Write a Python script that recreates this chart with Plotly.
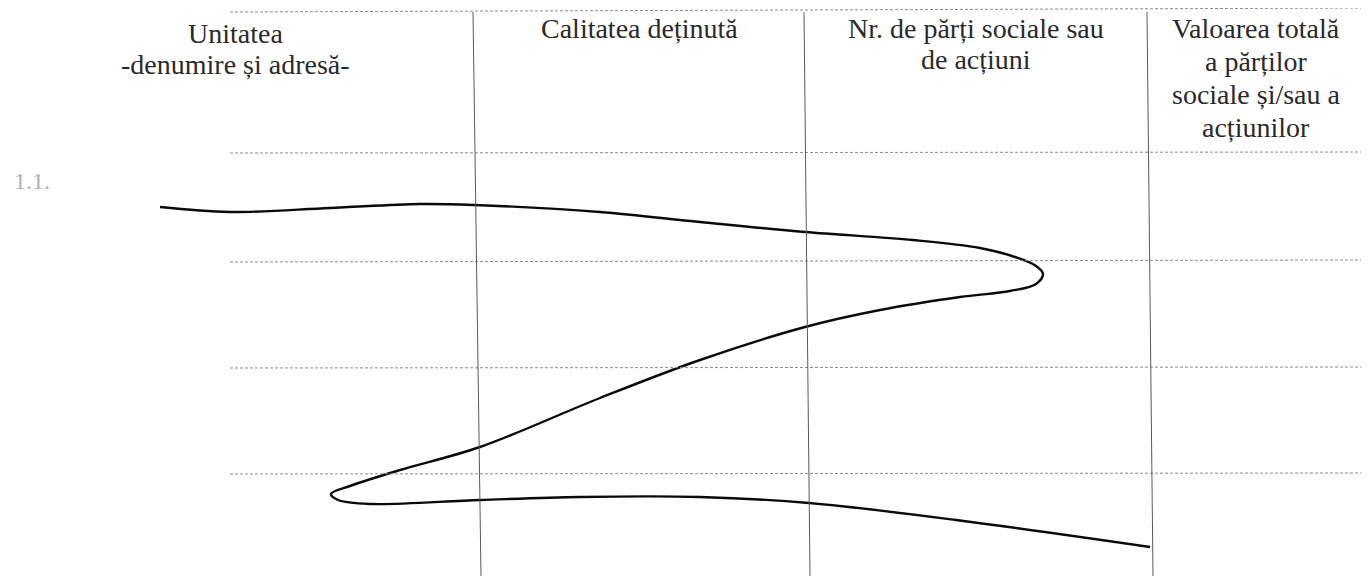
import plotly.graph_objects as go

# ---- table text (header cells) ----
header_lines = [
    ["Unitatea", "-denumire și adresă-"],
    ["Calitatea deținută"],
    ["Nr. de părți sociale sau", "de acțiuni"],
    ["Valoarea totală", "a părților", "sociale și/sau a", "acțiunilor"],
]
row_label = "1.1."

# ---- table rules (page pixel units) ----
col_top_x = [473, 804, 1147]
col_bot_x = [481, 810, 1153]
row_y_left = [12, 153, 262, 368, 474]
row_y_right = [8, 152, 260, 367, 473]

# ---- hand-drawn cancelling stroke, traced point by point ----
stroke_x = [160, 230, 330, 420, 474, 600, 700, 805, 913, 980, 1015, 1036,
            1043, 1036, 1010, 960, 880, 805, 700, 600, 480, 400, 350, 331,
            338, 370, 480, 580, 700, 809, 956, 1150]
stroke_y = [207, 212, 208, 204, 205, 212, 222, 232, 240, 248, 257, 266,
            274, 284, 291, 297, 310, 327, 360, 398, 447, 470, 486, 494,
            500, 504, 500, 497, 497, 503, 520, 547]

W, H = 1369, 576
OFF = 8  # page body margin
fig = go.Figure()

shapes = []
for yl, yr in zip(row_y_left, row_y_right):
    shapes.append(dict(type="line", xref="x", yref="y", x0=230, x1=1365,
                       y0=yl, y1=yr,
                       line=dict(color="#8a8a8a", width=1, dash="3px,2px")))
for xt, xb in zip(col_top_x, col_bot_x):
    shapes.append(dict(type="line", xref="x", yref="y", x0=xt, x1=xb,
                       y0=row_y_left[0], y1=H,
                       line=dict(color="#5a5a5a", width=1)))
shapes.append(dict(type="line", xref="x", yref="y", x0=1364, x1=1366,
                   y0=0, y1=H, line=dict(color="#9a9a9a", width=1)))

fig.add_trace(go.Scatter(x=stroke_x, y=stroke_y, mode="lines",
                         line=dict(color="#0a0a0a", width=2.4, shape="spline",
                                   smoothing=1.0),
                         hoverinfo="skip", showlegend=False))

centers_x = [235, 639, 976, 1256]
first_y = [33, 28, 28, 28]
line_gap = [31, 31, 31, 33.3]
annotations = []
for lines, cx, fy, gap in zip(header_lines, centers_x, first_y, line_gap):
    for i, t in enumerate(lines):
        annotations.append(dict(x=cx, y=fy + i * gap, xref="x", yref="y",
                                text=t, showarrow=False,
                                xanchor="center", yanchor="middle",
                                font=dict(family="Liberation Serif", size=28,
                                          color="#2a2a2a")))
annotations.append(dict(x=32, y=181, xref="x", yref="y", text=row_label,
                        showarrow=False, xanchor="center", yanchor="middle",
                        font=dict(family="Liberation Serif", size=24,
                                  color="#b0b0b0")))

fig.update_layout(
    width=W - OFF, height=H - OFF,
    margin=dict(l=0, r=0, t=0, b=0),
    paper_bgcolor="white", plot_bgcolor="white",
    xaxis=dict(range=[OFF, W], visible=False, fixedrange=True),
    yaxis=dict(range=[H, OFF], visible=False, fixedrange=True),
    shapes=shapes, annotations=annotations,
)

fig.write_html("out.html", config={"displayModeBar": False})
